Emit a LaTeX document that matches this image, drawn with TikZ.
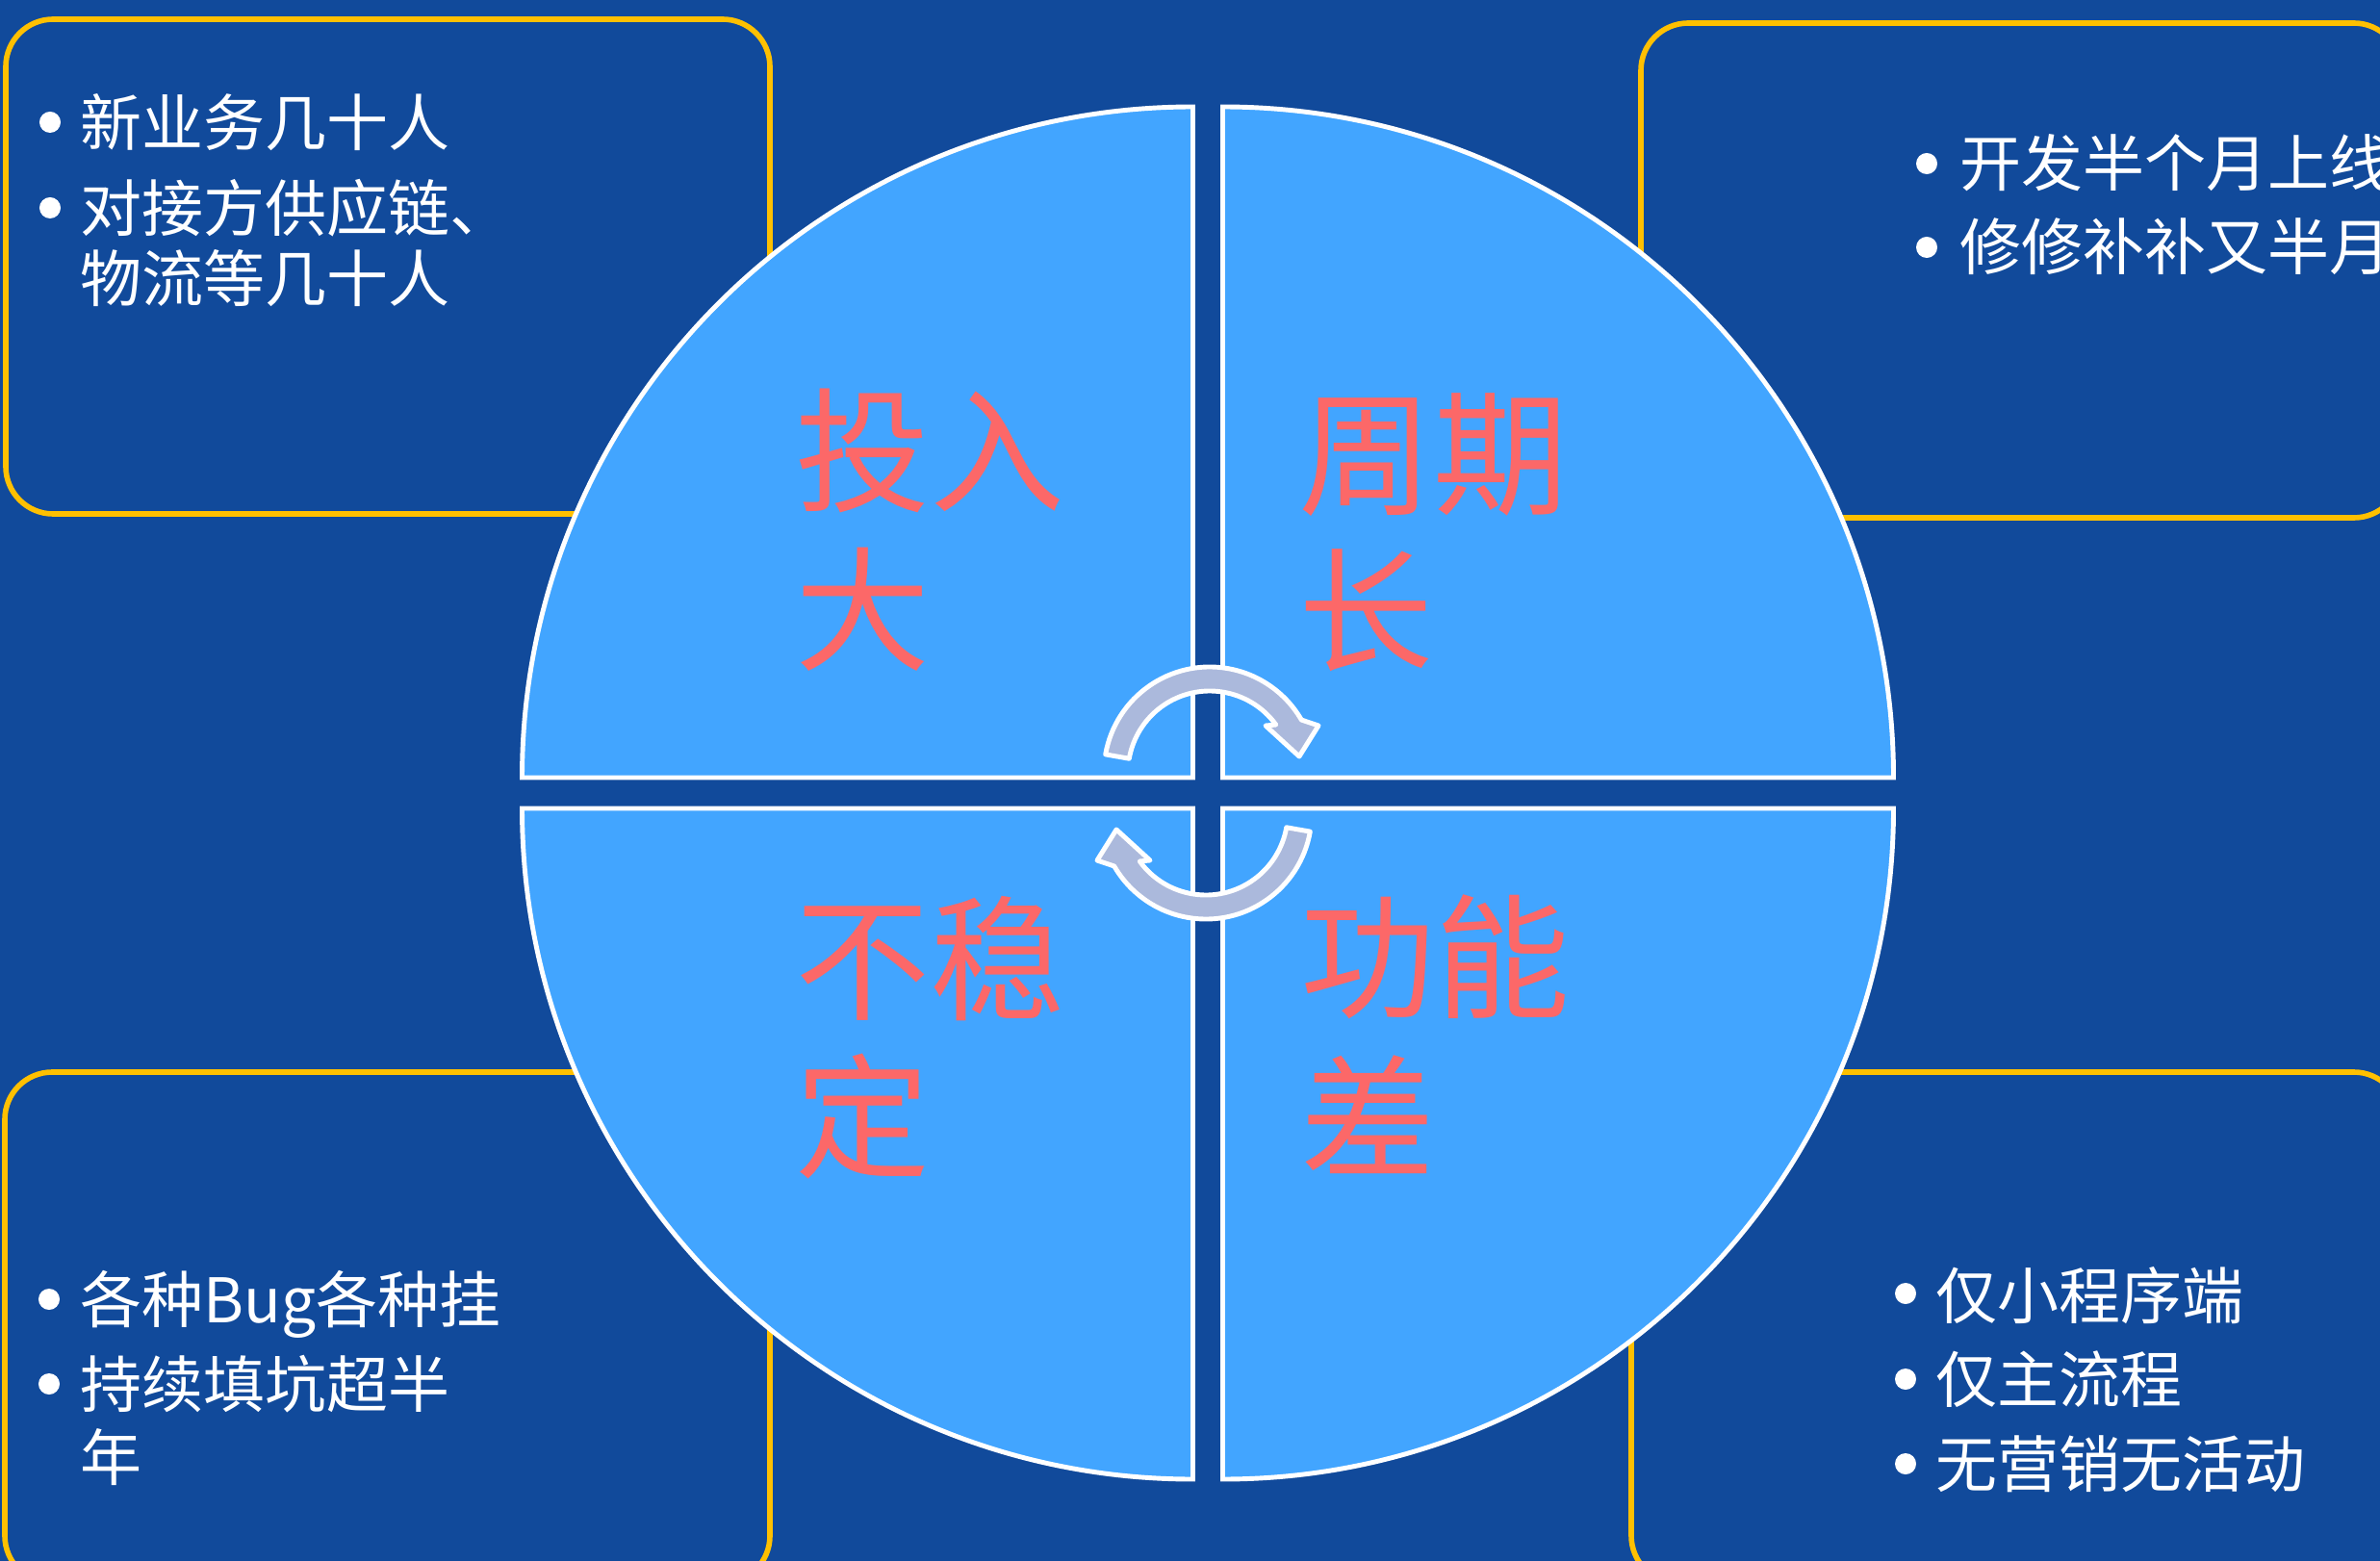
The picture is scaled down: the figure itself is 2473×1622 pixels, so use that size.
\documentclass[tikz,border=0pt]{standalone}
\usepackage{fontspec}
\newfontfamily\cjk{Noto Sans CJK SC}
\usetikzlibrary{calc}
\definecolor{bgblue}{RGB}{17,74,155}
\definecolor{qblue}{RGB}{66,165,255}
\definecolor{goldline}{RGB}{255,192,0}
\definecolor{redtext}{RGB}{252,104,104}
\definecolor{arrowfill}{RGB}{171,185,220}
\begin{document}
\begin{tikzpicture}[x=0.01cm,y=-0.01cm,
  infobox/.style={draw=goldline, line width=1.6pt, fill=bgblue, rounded corners=14pt},
  quad/.style={fill=qblue, draw=white, line width=1.4pt, line join=miter},
  cyclearrow/.style={fill=arrowfill, draw=white, line width=1.4pt, line join=round},
  bullettext/.style={anchor=base west, inner sep=0pt, text=white, font=\cjk\fontsize{18.2}{21}\selectfont},
  bigtext/.style={anchor=base west, inner sep=0pt, text=redtext, font=\cjk\fontsize{39.8}{46}\selectfont},
  bulletdot/.style={circle, fill=white, draw=none, inner sep=0pt, minimum size=0.22cm}
]
\useasboundingbox (0,0) rectangle (2473,1622);
\fill[bgblue] (0,0) rectangle (2473,1622);

% info boxes
\draw[infobox] (6,20) rectangle (800,534);
\draw[infobox] (1705,24) rectangle (2495,538);
\draw[infobox] (5,1114) rectangle (800,1645);
\draw[infobox] (1695,1114) rectangle (2495,1645);

% quadrants
\coordinate (cul) at (1239.5,808);
\coordinate (cur) at (1270.5,808);
\coordinate (cll) at (1239.5,840);
\coordinate (clr) at (1270.5,840);
\draw[quad] (cul) -- ++(0,-697) arc[start angle=-90, end angle=-180, radius=697] -- cycle;
\draw[quad] (cur) -- ++(697,0) arc[start angle=0, end angle=-90, radius=697] -- cycle;
\draw[quad] (cll) -- ++(-697,0) arc[start angle=180, end angle=90, radius=697] -- cycle;
\draw[quad] (clr) -- ++(0,697) arc[start angle=90, end angle=0, radius=697] -- cycle;

% quadrant labels
\node[bigtext] (q1a) at (826,522) {投入};
\node[bigtext] (q1b) at (826,686) {大};
\node[bigtext] (q2a) at (1349,525) {周期};
\node[bigtext] (q2b) at (1349,688) {长};
\node[bigtext] (q3a) at (826,1049) {不稳};
\node[bigtext] (q3b) at (826,1213) {定};
\node[bigtext] (q4a) at (1351,1047) {功能};
\node[bigtext] (q4b) at (1351,1214) {差};

% cycle arrows
\coordinate (ac1) at (1257,803);
\coordinate (ac2) at (1253,845);
\draw[cyclearrow] ($(ac1)+(-170:110)$) arc[start angle=-170, end angle=-30, radius=110]
  -- (1370,754) -- (1350,786) -- (1315,754) -- ($(ac1)+(-36:85)$)
  arc[start angle=-36, end angle=-170, radius=85] -- cycle;
\draw[cyclearrow] ($(ac2)+(10:110)$) arc[start angle=10, end angle=150, radius=110]
  -- (1140,894) -- (1160,862) -- (1195,894) -- ($(ac2)+(144:85)$)
  arc[start angle=144, end angle=10, radius=85] -- cycle;

% bullet lists
\node[bulletdot] (tld1) at (52,127) {};
\node[bulletdot] (tld2) at (52,216) {};
\node[bullettext] (tl1) at (83,152) {新业务几十人};
\node[bullettext] (tl2) at (83,241) {对接方供应链、};
\node[bullettext] (tl3) at (83,314) {物流等几十人};

\node[bulletdot] (trd1) at (2002,170) {};
\node[bulletdot] (trd2) at (2002,257) {};
\node[bullettext] (tr1) at (2036,194) {开发半个月上线};
\node[bullettext] (tr2) at (2036,281) {修修补补又半月};

\node[bulletdot] (bld1) at (51,1350) {};
\node[bulletdot] (bld2) at (51,1438) {};
\node[bullettext] (bl1) at (83,1374) {各种Bug各种挂};
\node[bullettext] (bl2) at (83,1462) {持续填坑超半};
\node[bullettext] (bl3) at (83,1538) {年};

\node[bulletdot] (brd1) at (1980,1344) {};
\node[bulletdot] (brd2) at (1980,1433) {};
\node[bulletdot] (brd3) at (1980,1521) {};
\node[bullettext] (br1) at (2011,1370) {仅小程序端};
\node[bullettext] (br2) at (2011,1457) {仅主流程};
\node[bullettext] (br3) at (2011,1545) {无营销无活动};
\end{tikzpicture}
\end{document}
